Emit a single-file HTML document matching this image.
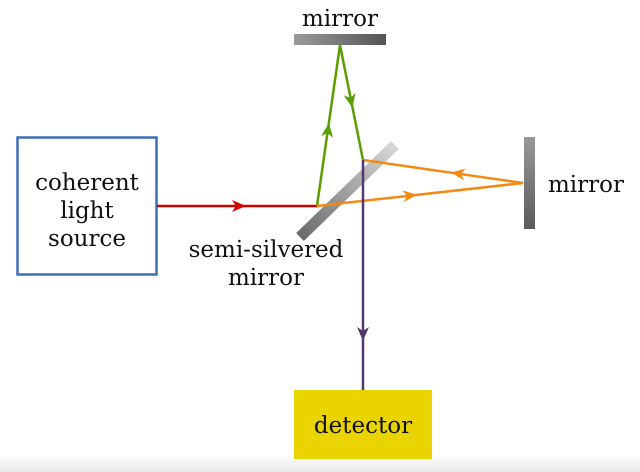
<!DOCTYPE html>
<html><head><meta charset="utf-8"><style>
html,body{margin:0;padding:0;background:#fff}
svg{display:block}
text{font-family:"DejaVu Serif","Liberation Serif",serif;font-size:23px;fill:#111}
</style></head><body>
<svg width="640" height="472" viewBox="0 0 640 472" xmlns="http://www.w3.org/2000/svg">
<defs>
<linearGradient id="bg" x1="0" y1="0" x2="0" y2="1"><stop offset="0" stop-color="#fff"/><stop offset="1" stop-color="#e8e8e8"/></linearGradient>
<linearGradient id="mh" x1="0" y1="0" x2="1" y2="0"><stop offset="0" stop-color="#9a9a9a"/><stop offset="1" stop-color="#555"/></linearGradient>
<linearGradient id="mv" x1="0" y1="0" x2="0" y2="1"><stop offset="0" stop-color="#999"/><stop offset="1" stop-color="#5a5a5a"/></linearGradient>
<linearGradient id="ms" x1="300" y1="237" x2="395" y2="145" gradientUnits="userSpaceOnUse"><stop offset="0" stop-color="#6a6a6a"/><stop offset="1" stop-color="#d8d8d8"/></linearGradient>
</defs>
<rect x="0" y="455" width="640" height="17" fill="url(#bg)"/>
<rect x="17.5" y="137.5" width="139" height="137" fill="#fff" stroke="#3d6fb5" stroke-width="2.5"/>
<text x="87" y="190" text-anchor="middle">coherent</text>
<text x="87" y="218" text-anchor="middle">light</text>
<text x="87" y="246" text-anchor="middle">source</text>
<rect x="294" y="34" width="92" height="11" fill="url(#mh)"/>
<text x="340" y="26" text-anchor="middle">mirror</text>
<rect x="524" y="137" width="11" height="92" fill="url(#mv)"/>
<text x="548" y="192">mirror</text>
<line x1="300" y1="237" x2="395" y2="145" stroke="url(#ms)" stroke-width="11"/>
<text x="266" y="257" text-anchor="middle">semi-silvered</text>
<text x="266" y="285" text-anchor="middle">mirror</text>
<rect x="294" y="390" width="138" height="69" fill="#e9d300"/>
<text x="363" y="433" text-anchor="middle">detector</text>
<g fill="none" stroke-width="2.5" stroke-linejoin="miter">
<line x1="157" y1="206" x2="318" y2="206" stroke="#d40000"/>
<polyline points="317,206 340,45 363,160" stroke="#5a9e00"/>
<polyline points="317,206 523,183 363,160" stroke="#f58a12"/>
<line x1="363" y1="160" x2="363" y2="390" stroke="#54386e"/>
</g>
<g>
<path d="M246,206 L232,200 L236,206 L232,212 Z" fill="#d40000"/>
<g transform="translate(328,130) rotate(-82)"><path d="M7,0 L-7,-6 L-3,0 L-7,6 Z" fill="#5a9e00"/></g>
<g transform="translate(351,101) rotate(78.5)"><path d="M7,0 L-7,-6 L-3,0 L-7,6 Z" fill="#5a9e00"/></g>
<g transform="translate(410,195.5) rotate(-6.4)"><path d="M7,0 L-7,-6 L-3,0 L-7,6 Z" fill="#f58a12"/></g>
<g transform="translate(458,173.5) rotate(188.2)"><path d="M7,0 L-7,-6 L-3,0 L-7,6 Z" fill="#f58a12"/></g>
<g transform="translate(363,334) rotate(90)"><path d="M7,0 L-7,-6 L-3,0 L-7,6 Z" fill="#54386e"/></g>
</g>
</svg>
</body></html>
